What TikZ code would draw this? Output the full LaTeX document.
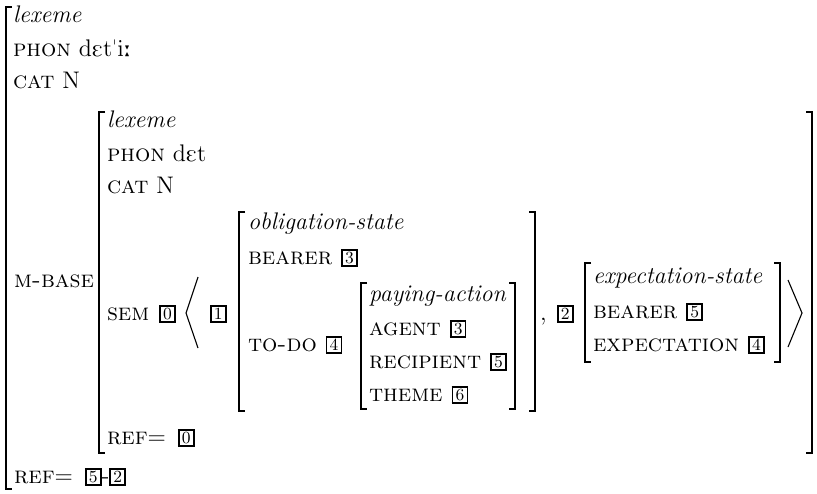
\documentclass[tikz,border=0pt]{standalone}
\usepackage{tipa}
% boxed structure-sharing tag
\newcommand{\tagbox}[1]{{\setlength{\fboxsep}{0.3pt}\setlength{\fboxrule}{0.85pt}%
  \fbox{\rule[-0.4pt]{0pt}{6.6pt}\makebox[6pt]{\fontsize{8.5}{9}\selectfont\raisebox{0.2pt}{#1}}}}}
\begin{document}
\begin{tikzpicture}[x=0.5pt,y=-0.5pt,
  lbl/.style={anchor=base west, inner sep=0pt, outer sep=0pt, font=\fontsize{12}{14}\selectfont},
  brk/.style={line width=0.8pt, line join=miter},
  ang/.style={line width=0.55pt}]
\useasboundingbox (0,0) rectangle (817,493);

% ---- outer lexeme ----
\draw[brk] (12,7) -- (6,7) -- (6,489) -- (12,489);
\node[lbl] (otype) at (13,22) {\textit{lexeme}};
\node[lbl] (ophon) at (13,56) {\textsc{phon} \textipa{dEt"i:}};
\node[lbl] (ocat)  at (13,88) {\textsc{cat} N};
\node[lbl] (omb)   at (14,287) {\textsc{m-base}};
\node[lbl] (oref)  at (14,483) {\textsc{ref}$=$\hspace{6pt}\tagbox{5}-\tagbox{2}};

% ---- m-base value ----
\draw[brk] (105,112) -- (99,112) -- (99,453) -- (105,453);
\draw[brk] (806,112) -- (812,112) -- (812,453) -- (806,453);
\node[lbl] (mtype) at (107,127) {\textit{lexeme}};
\node[lbl] (mphon) at (107,161) {\textsc{phon} d\textipa{E}t};
\node[lbl] (mcat)  at (107,193) {\textsc{cat} N};
\node[lbl] (msem)  at (107,320) {\textsc{sem}\hspace{5pt}\tagbox{0}};
\node[lbl] (mref)  at (107,444) {\textsc{ref}$=$\hspace{6pt}\tagbox{0}};

% list brackets
\draw[ang] (198,277) -- (186,313) -- (198,348);
\draw[ang] (788,280) -- (802,313) -- (788,347);

\node[lbl] (t1) at (210,319.5) {\tagbox{1}};

% ---- obligation-state ----
\draw[brk] (245,212) -- (239,212) -- (239,411) -- (245,411);
\draw[brk] (529,212) -- (535,212) -- (535,411) -- (529,411);
\node[lbl] (obtype) at (248,229) {\textit{obligation-state}};
\node[lbl] (obbear) at (248,264) {\textsc{bearer}\hspace{4.5pt}\tagbox{3}};
\node[lbl] (obtodo) at (248,351) {\textsc{to-do}\hspace{4.5pt}\tagbox{4}};

% ---- paying-action ----
\draw[brk] (367,283) -- (361,283) -- (361,409) -- (367,409);
\draw[brk] (509,283) -- (515,283) -- (515,409) -- (509,409);
\node[lbl] (patype) at (369,301) {\textit{paying-action}};
\node[lbl] (paag)   at (369,335) {\textsc{agent}\hspace{4.5pt}\tagbox{3}};
\node[lbl] (parec)  at (369,368) {\textsc{recipient}\hspace{4.5pt}\tagbox{5}};
\node[lbl] (path)   at (369,401) {\textsc{theme}\hspace{4.5pt}\tagbox{6}};

\node[lbl] (comma) at (540,320) {,};
\node[lbl] (t2) at (557,319.5) {\tagbox{2}};

% ---- expectation-state ----
\draw[brk] (591,263) -- (585,263) -- (585,362) -- (591,362);
\draw[brk] (774,263) -- (780,263) -- (780,362) -- (774,362);
\node[lbl] (extype) at (593,283) {\textit{expectation-state}};
\node[lbl] (exbear) at (593,318) {\textsc{bearer}\hspace{4.5pt}\tagbox{5}};
\node[lbl] (exexp)  at (593,351) {\textsc{expectation}\hspace{4.5pt}\tagbox{4}};
\end{tikzpicture}
\end{document}
